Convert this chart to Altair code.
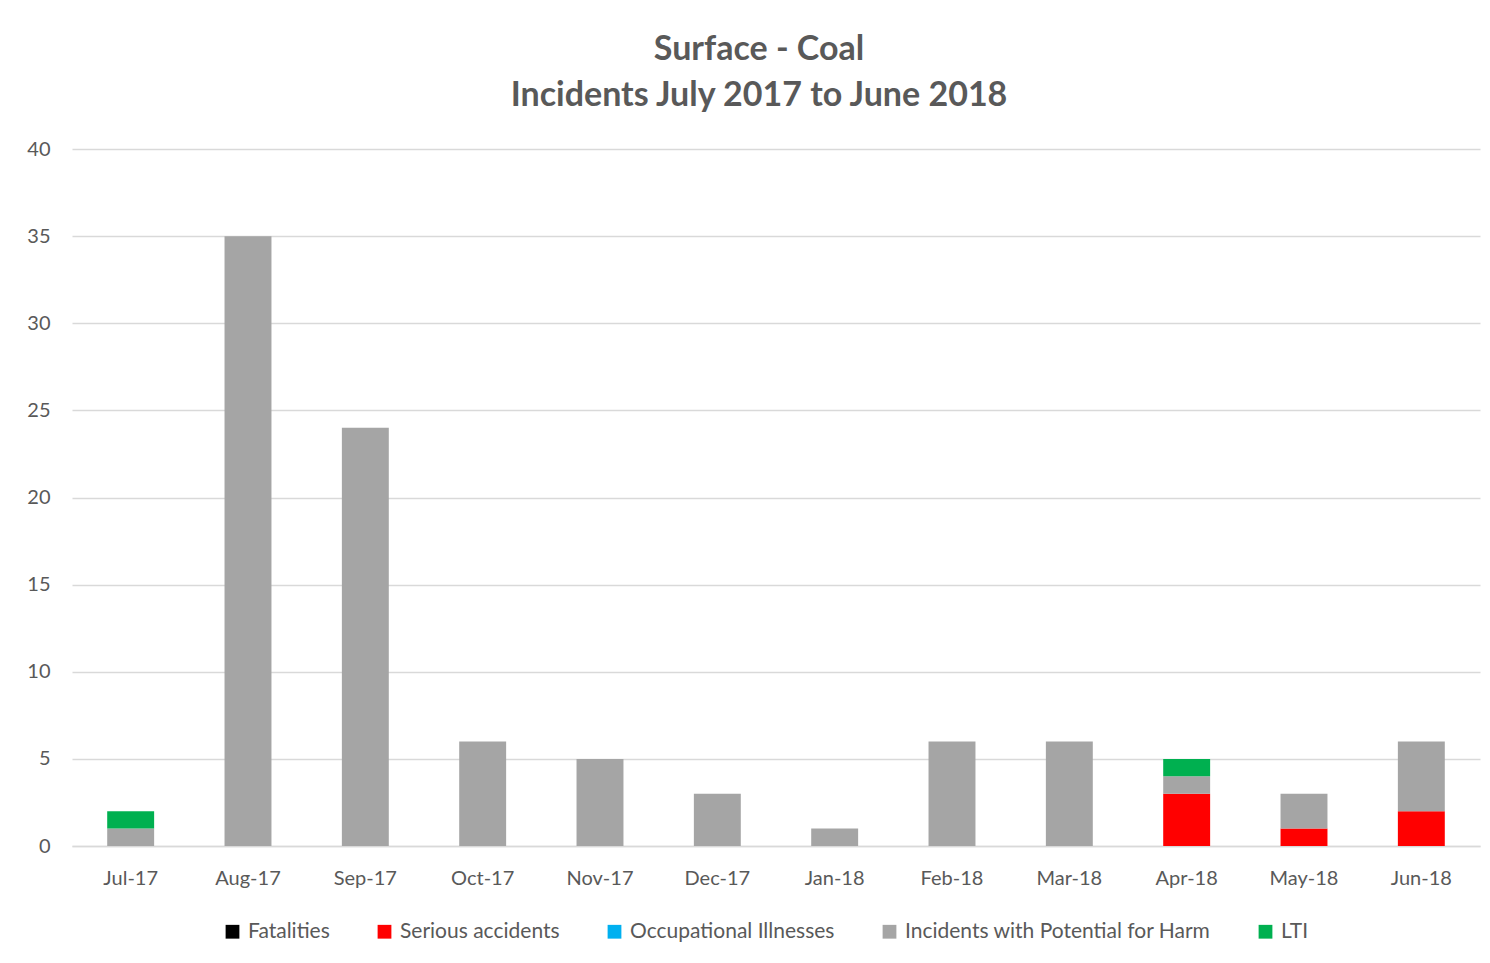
import altair as alt
import pandas as pd

months = ["Jul-17", "Aug-17", "Sep-17", "Oct-17", "Nov-17", "Dec-17",
          "Jan-18", "Feb-18", "Mar-18", "Apr-18", "May-18", "Jun-18"]
series = ["Fatalities", "Serious accidents", "Occupational Illnesses",
          "Incidents with Potential for Harm", "LTI"]
colors = ["#000000", "#FF0000", "#00B0F0", "#A5A5A5", "#00B050"]

fatalities = [0, 0, 0, 0, 0, 0, 0, 0, 0, 0, 0, 0]
serious = [0, 0, 0, 0, 0, 0, 0, 0, 0, 3, 1, 2]
occupational = [0, 0, 0, 0, 0, 0, 0, 0, 0, 0, 0, 0]
iph = [1, 35, 24, 6, 5, 3, 1, 6, 6, 1, 2, 4]
lti = [1, 0, 0, 0, 0, 0, 0, 0, 0, 1, 0, 0]

values = [fatalities, serious, occupational, iph, lti]
rows = []
for si, (s, vals) in enumerate(zip(series, values)):
    for m, v in zip(months, vals):
        rows.append({"Month": m, "Series": s, "Value": v, "order": si})
df = pd.DataFrame(rows)

FONT = "Lato"
TXT = "#595959"

chart = alt.Chart(df).mark_bar().encode(
    x=alt.X("Month:N", sort=months, title=None,
            scale=alt.Scale(paddingInner=0.6, paddingOuter=0.3),
            axis=alt.Axis(labelAngle=0, labelFontSize=20, labelColor=TXT,
                          labelFont=FONT, labelPadding=22, ticks=False,
                          domainColor="#D9D9D9", domainWidth=1.5, grid=False)),
    y=alt.Y("Value:Q", stack="zero", title=None,
            scale=alt.Scale(domain=[0, 40]),
            axis=alt.Axis(values=[0, 5, 10, 15, 20, 25, 30, 35, 40],
                          labelFontSize=20, labelColor=TXT, labelFont=FONT,
                          labelPadding=22, ticks=False, domain=False,
                          gridColor="#D9D9D9", gridWidth=1.5)),
    color=alt.Color("Series:N", sort=series,
                    scale=alt.Scale(domain=series, range=colors),
                    legend=alt.Legend(title=None, orient="none",
                                      direction="horizontal", columns=5,
                                      legendX=150, legendY=772,
                                      symbolType="square", symbolSize=190,
                                      symbolStrokeWidth=0, labelLimit=0,
                                      labelFontSize=21, labelColor=TXT,
                                      labelFont=FONT, columnPadding=44,
                                      labelOffset=5)),
    order=alt.Order("order:Q", sort="ascending"),
).properties(
    width=1408,
    height=697,
    title=alt.TitleParams(
        text=["Surface - Coal", "Incidents July 2017 to June 2018"],
        fontSize=34, font=FONT, fontWeight="bold", color=TXT,
        anchor="middle", dx=-17, offset=26, lineHeight=46),
    padding={"left": 64, "top": 141, "right": 2, "bottom": 110},
    autosize=alt.AutoSizeParams(type="none"),
).configure_view(stroke=None)

chart.save("out.html", embed_options={"renderer": "svg", "actions": False})
